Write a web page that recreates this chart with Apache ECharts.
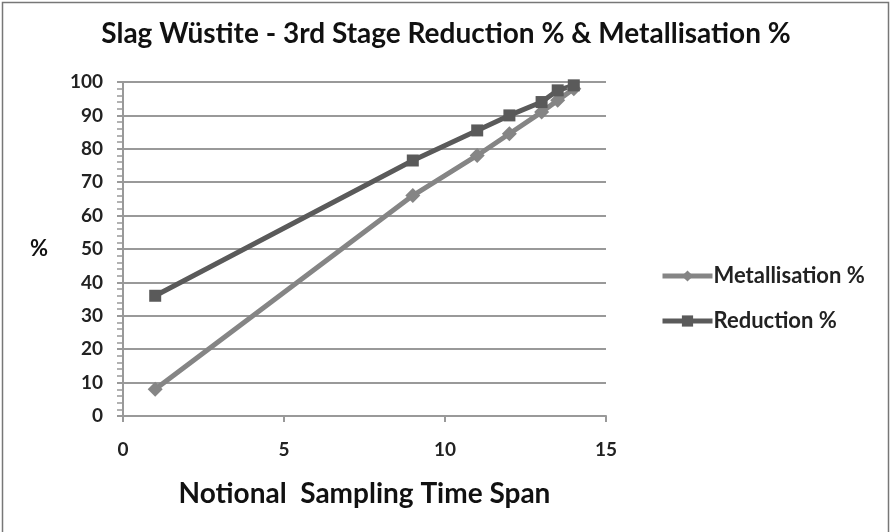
<!DOCTYPE html>
<html><head><meta charset="utf-8">
<script src="https://cdn.jsdelivr.net/npm/echarts@6/dist/echarts.min.js"></script>
<style>html,body{margin:0;padding:0;background:#fff}#c{width:892px;height:532px}</style>
</head><body><div id="c"></div>
<script>
const timeSpan = [1, 9, 11, 12, 13, 13.5, 14];
const metallisation = [8, 66, 78, 84.5, 91, 94.5, 98];
const reduction = [36, 76.5, 85.5, 90, 94, 97.5, 99];
const titleText = 'Slag Wüstite - 3rd Stage Reduction % & Metallisation %';
const xName = 'Notional  Sampling Time Span';
const yName = '%';
const FONT = 'Lato, "Open Sans", sans-serif';

const chart = echarts.init(document.getElementById('c'));
chart.setOption({
  animation: false,
  backgroundColor: '#fff',
  title: { text: titleText, left: 'center', top: 15,
    textStyle: { fontFamily: FONT, fontWeight: 'bold', fontSize: 28, color: '#111' } },
  graphic: [
    { type: 'rect', shape: { x: 2.5, y: 2.5, width: 886, height: 540 }, style: { fill: 'none', stroke: '#777', lineWidth: 1.5 } },
    { type: 'text', left: 30, top: 238, style: { text: yName, font: 'bold 22px ' + FONT, fill: '#111' } }
  ],
  grid: { left: 123, right: 286, top: 82, bottom: 116 },
  legend: {
    orient: 'vertical', left: 655, top: 260, itemGap: 23, itemWidth: 50, itemHeight: 14,
    lineStyle: { width: 5 },
    textStyle: { fontFamily: FONT, fontWeight: 'bold', fontSize: 22, color: '#222', padding: [0,0,0,-4] },
    data: ['Metallisation %', 'Reduction %']
  },
  xAxis: {
    type: 'value', min: 0, max: 15, interval: 5,
    name: xName, nameLocation: 'middle', nameGap: 64,
    nameTextStyle: { fontFamily: FONT, fontWeight: 'bold', fontSize: 28, color: '#111' },
    axisLine: { lineStyle: { color: '#999', width: 2 } },
    axisTick: { show: true, inside: false, length: 6, lineStyle: { color: '#999', width: 2 } },
    axisLabel: { fontFamily: FONT, fontWeight: 'bold', fontSize: 19, color: '#222', margin: 24 },
    splitLine: { show: false }
  },
  yAxis: {
    type: 'value', min: 0, max: 100, interval: 10,
    axisLine: { show: true, lineStyle: { color: '#999', width: 2 } },
    axisTick: { show: true, length: 6, lineStyle: { color: '#999', width: 2 } },
    minorTick: { show: true, splitNumber: 5, length: 6, lineStyle: { color: '#999', width: 1.5 } },
    axisLabel: { fontFamily: FONT, fontWeight: 'bold', fontSize: 19, color: '#222', margin: 20 },
    splitLine: { show: true, lineStyle: { color: '#999', width: 2 } }
  },
  series: [
    { name: 'Metallisation %', type: 'line', symbol: 'diamond', symbolSize: 15,
      data: timeSpan.map((x, i) => [x, metallisation[i]]),
      lineStyle: { color: '#858585', width: 5 }, itemStyle: { color: '#858585' } },
    { name: 'Reduction %', type: 'line', symbol: 'rect', symbolSize: 12,
      data: timeSpan.map((x, i) => [x, reduction[i]]),
      lineStyle: { color: '#5a5a5a', width: 5 }, itemStyle: { color: '#5a5a5a' } }
  ]
});
</script></body></html>
